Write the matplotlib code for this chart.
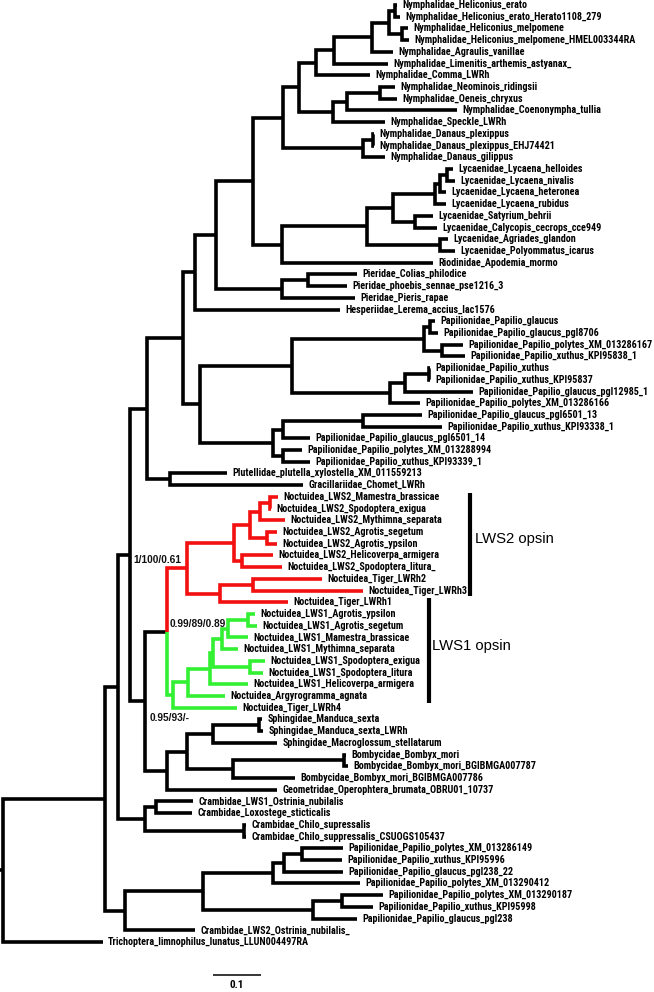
import matplotlib
matplotlib.use("Agg")
import matplotlib.pyplot as plt
from matplotlib import font_manager as fm

# ---------------- data ----------------
leaf_names = [
    "Nymphalidae_Heliconius_erato",
    "Nymphalidae_Heliconius_erato_Herato1108_279",
    "Nymphalidae_Heliconius_melpomene",
    "Nymphalidae_Heliconius_melpomene_HMEL003344RA",
    "Nymphalidae_Agraulis_vanillae",
    "Nymphalidae_Limenitis_arthemis_astyanax_",
    "Nymphalidae_Comma_LWRh",
    "Nymphalidae_Neominois_ridingsii",
    "Nymphalidae_Oeneis_chryxus",
    "Nymphalidae_Coenonympha_tullia",
    "Nymphalidae_Speckle_LWRh",
    "Nymphalidae_Danaus_plexippus",
    "Nymphalidae_Danaus_plexippus_EHJ74421",
    "Nymphalidae_Danaus_gilippus",
    "Lycaenidae_Lycaena_helloides",
    "Lycaenidae_Lycaena_nivalis",
    "Lycaenidae_Lycaena_heteronea",
    "Lycaenidae_Lycaena_rubidus",
    "Lycaenidae_Satyrium_behrii",
    "Lycaenidae_Calycopis_cecrops_cce949",
    "Lycaenidae_Agriades_glandon",
    "Lycaenidae_Polyommatus_icarus",
    "Riodinidae_Apodemia_mormo",
    "Pieridae_Colias_philodice",
    "Pieridae_phoebis_sennae_pse1216_3",
    "Pieridae_Pieris_rapae",
    "Hesperiidae_Lerema_accius_lac1576",
    "Papilionidae_Papilio_glaucus",
    "Papilionidae_Papilio_glaucus_pgl8706",
    "Papilionidae_Papilio_polytes_XM_013286167",
    "Papilionidae_Papilio_xuthus_KPI95838_1",
    "Papilionidae_Papilio_xuthus",
    "Papilionidae_Papilio_xuthus_KPI95837",
    "Papilionidae_Papilio_glaucus_pgl12985_1",
    "Papilionidae_Papilio_polytes_XM_013286166",
    "Papilionidae_Papilio_glaucus_pgl6501_13",
    "Papilionidae_Papilio_xuthus_KPI93338_1",
    "Papilionidae_Papilio_glaucus_pgl6501_14",
    "Papilionidae_Papilio_polytes_XM_013288994",
    "Papilionidae_Papilio_xuthus_KPI93339_1",
    "Plutellidae_plutella_xylostella_XM_011559213",
    "Gracillariidae_Chomet_LWRh",
    "Noctuidea_LWS2_Mamestra_brassicae",
    "Noctuidea_LWS2_Spodoptera_exigua",
    "Noctuidea_LWS2_Mythimna_separata",
    "Noctuidea_LWS2_Agrotis_segetum",
    "Noctuidea_LWS2_Agrotis_ypsilon",
    "Noctuidea_LWS2_Helicoverpa_armigera",
    "Noctuidea_LWS2_Spodoptera_litura_",
    "Noctuidea_Tiger_LWRh2",
    "Noctuidea_Tiger_LWRh3",
    "Noctuidea_Tiger_LWRh1",
    "Noctuidea_LWS1_Agrotis_ypsilon",
    "Noctuidea_LWS1_Agrotis_segetum",
    "Noctuidea_LWS1_Mamestra_brassicae",
    "Noctuidea_LWS1_Mythimna_separata",
    "Noctuidea_LWS1_Spodoptera_exigua",
    "Noctuidea_LWS1_Spodoptera_litura",
    "Noctuidea_LWS1_Helicoverpa_armigera",
    "Noctuidea_Argyrogramma_agnata",
    "Noctuidea_Tiger_LWRh4",
    "Sphingidae_Manduca_sexta",
    "Sphingidae_Manduca_sexta_LWRh",
    "Sphingidae_Macroglossum_stellatarum",
    "Bombycidae_Bombyx_mori",
    "Bombycidae_Bombyx_mori_BGIBMGA007787",
    "Bombycidae_Bombyx_mori_BGIBMGA007786",
    "Geometridae_Operophtera_brumata_OBRU01_10737",
    "Crambidae_LWS1_Ostrinia_nubilalis",
    "Crambidae_Loxostege_sticticalis",
    "Crambidae_Chilo_supressalis",
    "Crambidae_Chilo_suppressalis_CSUOGS105437",
    "Papilionidae_Papilio_polytes_XM_013286149",
    "Papilionidae_Papilio_xuthus_KPI95996",
    "Papilionidae_Papilio_glaucus_pgl238_22",
    "Papilionidae_Papilio_polytes_XM_013290412",
    "Papilionidae_Papilio_polytes_XM_013290187",
    "Papilionidae_Papilio_xuthus_KPI95998",
    "Papilionidae_Papilio_glaucus_pgl238",
    "Crambidae_LWS2_Ostrinia_nubilalis_",
    "Trichoptera_limnophilus_lunatus_LLUN004497RA",
]

leaf_parents = [
    "Her", "Her", "Mel", "Mel", "N6", "N5", "N4", "S3", "S3", "S2",
    "S1", "Dp", "Dp", "Dan", "L2b", "L2b", "L2a", "L2", "L3", "L3",
    "L4", "L4", "LR", "P1", "P1", "Pier", "D3", "PC", "PC", "PD",
    "PD", "PG", "PG", "PF", "PE", "PJ", "PJ", "PI", "PK", "PK",
    "PG2", "PG2", "MS", "MS", "R1a", "Agr", "Agr", "HS", "HS", "TP",
    "TP", "R2", "Ay", "Ay", "G5", "G4", "SP", "SP", "G2", "G1",
    "GREEN", "Man", "Man", "Sph", "Bm", "Bm", "Bomb", "G", "Cr1", "Cr1",
    "Chi", "Chi", "T", "T", "S", "R", "V", "V", "U", "P",
    "root",
]

# distance from the root (substitutions / site)
leaf_depths = [
    0.821, 0.827, 0.844, 0.846, 0.813, 0.802, 0.765, 0.817, 0.821, 0.946,
    0.796, 0.773, 0.773, 0.796, 0.938, 0.942, 0.923, 0.923, 0.896, 0.904,
    0.927, 0.942, 0.896, 0.738, 0.717, 0.733, 0.702, 0.900, 0.906, 0.958,
    0.963, 0.890, 0.890, 0.979, 0.869, 0.873, 0.915, 0.640, 0.623, 0.640,
    0.467, 0.625, 0.573, 0.558, 0.588, 0.571, 0.571, 0.563, 0.581, 0.665,
    0.750, 0.594, 0.525, 0.529, 0.510, 0.490, 0.546, 0.542, 0.510, 0.463,
    0.488, 0.540, 0.542, 0.571, 0.715, 0.719, 0.608, 0.571, 0.396, 0.394,
    0.506, 0.506, 0.708, 0.706, 0.708, 0.744, 0.792, 0.771, 0.738, 0.400,
    0.208,
]

node_ids = [
    "root", "A", "B", "C", "D", "D2", "D3", "Nym", "N1", "N2",
    "N3", "N4", "N5", "N6", "Hel", "Her", "Mel", "S1", "S2", "S3",
    "Dan", "Dp", "LR", "Lyc", "L1", "L2", "L2a", "L2b", "L3", "L4",
    "Pier", "P1", "Pap", "PA", "PB", "PC", "PD", "PE", "PF", "PG",
    "PH", "PI", "PJ", "PK", "PG2", "E", "F", "RED", "R1", "R1x",
    "R1a", "MS", "Agr", "HS", "R2", "TP", "GREEN", "G1", "G2", "G3",
    "G4", "G5", "Ay", "SP", "G", "H", "Sph", "Man", "Bomb", "Bm",
    "Cr", "Cr1", "Chi", "P", "Q", "R", "S", "T", "U", "V",
]
node_parents = [
    None, "root", "A", "B", "C", "D", "D2", "D3", "Nym", "N1",
    "N2", "N3", "N4", "N5", "N6", "Hel", "Hel", "N3", "S1", "S2",
    "N2", "Dan", "N1", "LR", "Lyc", "L1", "L2", "L2a", "L1", "Lyc",
    "Nym", "Pier", "D2", "Pap", "PA", "PB", "PB", "PA", "PE", "PF",
    "Pap", "PH", "PI", "PH", "D", "C", "E", "F", "RED", "R1",
    "R1x", "R1a", "R1x", "R1", "RED", "R2", "F", "GREEN", "G1", "G2",
    "G3", "G4", "G5", "G3", "E", "G", "H", "Sph", "H", "Bomb",
    "B", "Cr", "Cr", "A", "P", "Q", "R", "S", "Q", "U",
]
node_depths = [
    0.000, 0.213, 0.240, 0.265, 0.300, 0.375, 0.400, 0.444, 0.521, 0.583,
    0.617, 0.652, 0.690, 0.769, 0.804, 0.817, 0.831, 0.688, 0.717, 0.785,
    0.750, 0.771, 0.581, 0.758, 0.813, 0.900, 0.910, 0.925, 0.858, 0.910,
    0.581, 0.635, 0.410, 0.602, 0.877, 0.890, 0.915, 0.806, 0.838, 0.888,
    0.563, 0.583, 0.750, 0.583, 0.348, 0.296, 0.342, 0.383, 0.481, 0.515,
    0.535, 0.556, 0.550, 0.498, 0.452, 0.521, 0.354, 0.385, 0.431, 0.438,
    0.456, 0.469, 0.510, 0.515, 0.342, 0.383, 0.438, 0.533, 0.479, 0.710,
    0.296, 0.319, 0.502, 0.254, 0.417, 0.563, 0.585, 0.623, 0.646, 0.706,
]

support_texts = ["1/100/0.61", "0.99/89/0.89", "0.95/93/-"]
clade_roots = ["RED", "GREEN"]
clade_colors = ["#f21010", "#33f033"]
bracket_labels = ["LWS2 opsin", "LWS1 opsin"]
scale_value = 0.1

# ---------------- layout ----------------
W, H = 654, 992
fig = plt.figure(figsize=(W / 100, H / 100), dpi=100)
ax = fig.add_axes([0, 0, 1, 1])
ax.set_xlim(-0.00625, 1.35625)
ax.set_ylim(84.27, -0.427)
ax.axis("off")


def pick_font(cands):
    for c in cands:
        try:
            fm.findfont(fm.FontProperties(family=c, weight="bold"),
                        fallback_to_default=False)
            return c
        except Exception:
            pass
    return "DejaVu Sans"


leaf_font = pick_font(["Liberation Sans Narrow", "Arial Narrow", "Roboto Condensed",
                       "Open Sans Condensed", "DejaVu Sans Condensed", "Roboto",
                       "Liberation Sans"])
plain_font = pick_font(["Liberation Sans", "Arial", "DejaVu Sans"])
LEAF_WEIGHT = "heavy"

# fit leaf font size to the reference text width
probe = ax.text(0, 0, "Nymphalidae_Heliconius_erato", fontsize=10,
                fontweight=LEAF_WEIGHT, family=leaf_font)
fig.canvas.draw()
wpx = probe.get_window_extent().width
probe.remove()
leaf_fs = 10 * 125.0 / wpx

depth, parent = {}, {}
for n, p, d in zip(node_ids, node_parents, node_depths):
    depth[n] = d
    parent[n] = p
for n, p, d in zip(leaf_names, leaf_parents, leaf_depths):
    depth[n] = d
    parent[n] = p
children = {}
for n, p in parent.items():
    if p is not None:
        children.setdefault(p, []).append(n)

ypos = {n: float(i) for i, n in enumerate(leaf_names)}


def gety(n):
    if n in ypos:
        return ypos[n]
    ys = [gety(c) for c in children[n]]
    ypos[n] = (min(ys) + max(ys)) / 2.0
    return ypos[n]


gety("root")


def color_of(n):
    m = n
    while m is not None:
        if m in clade_roots:
            return clade_colors[clade_roots.index(m)]
        m = parent[m]
    return "black"


LW = 2.6
for n, p in parent.items():
    if p is None:
        continue
    ax.plot([depth[p], depth[p], depth[n]], [ypos[p], ypos[n], ypos[n]],
            color=color_of(n), lw=LW, solid_joinstyle="miter",
            solid_capstyle="butt")
ax.plot([-0.00625, 0.0], [ypos["root"]] * 2, color="black", lw=LW,
        solid_capstyle="butt")

for i, n in enumerate(leaf_names):
    ax.text(depth[n] + 0.011, i, n, va="center", ha="left", fontsize=leaf_fs,
            fontweight=LEAF_WEIGHT, family=leaf_font, color="black")

# support values
sup_pos = [(0.271, 47.39), (0.348, 52.85), (0.306, 60.88)]
for t, (x, y) in zip(support_texts, sup_pos):
    ax.text(x, y, t, va="center", ha="left", fontsize=7.3, fontweight="bold",
            family=plain_font, color="#111111")

# opsin brackets
br = [(0.973, 41.66, 50.46, 0.983, 45.59), (0.8875, 50.63, 59.6, 0.894, 54.73)]
for lab, (x, y0, y1, tx, ty) in zip(bracket_labels, br):
    ax.plot([x, x], [y0, y1], color="black", lw=3.0, solid_capstyle="butt")
    ax.text(tx, ty, lab, va="center", ha="left", fontsize=10.7,
            family=plain_font, color="black")

# scale bar
ax.plot([0.4375, 0.4375 + scale_value], [82.82, 82.82], color="black", lw=1.1,
        solid_capstyle="butt")
ax.text(0.4375 + scale_value / 2, 83.70, f"{scale_value:g}", va="center",
        ha="center", fontsize=leaf_fs * 1.1, fontweight=LEAF_WEIGHT, family=leaf_font)

fig.savefig("out.png", dpi=100)
